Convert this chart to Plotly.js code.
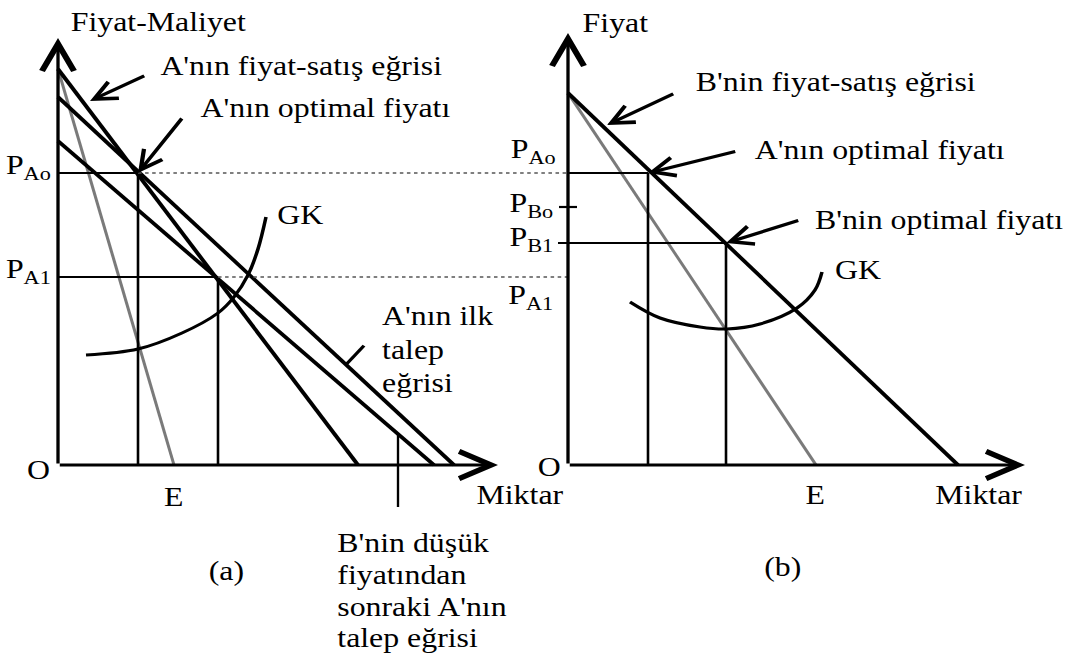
<!DOCTYPE html>
<html>
<head>
<meta charset="utf-8">
<script src="https://cdn.plot.ly/plotly-3.0.1.min.js"></script>
<style>
  html, body { margin: 0; padding: 0; background: #fff; overflow: hidden; }
  /* the figure is set in a Times face and widened to the page width */
  #chart { width: 903px; height: 656px; transform: scaleX(1.1794); transform-origin: 0 0; }
</style>
</head>
<body>
<div id="chart"></div>
<script>
// ---- Panel (a): firm A ----
const aSalesQ = [0, 75],        aSalesP = [99, 0];        // A'nın fiyat-satış eğrisi
const aFirstDemandQ = [0, 99],  aFirstDemandP = [92, 0];  // A'nın ilk talep eğrisi
const aNewDemandQ = [0, 94],    aNewDemandP = [81, 0];    // demand after B's lower price
const aMarginalQ = [0, 29],     aMarginalP = [99, 0];     // grey marginal line, ends at E
const aPrices = [73, 47];       // P_Ao, P_A1
const aQuantities = [20, 40];   // quantities sold at P_Ao, P_A1
const aCostQ = [7, 20, 31, 40, 44, 47.5, 50, 52];         // GK
const aCostP = [27.5, 29, 33, 38, 42, 47.5, 54, 62];
const aPriceLabels = ['P<sub>Ao</sub>', 'P<sub>A1</sub>'];

// ---- Panel (b): firm B ----
const bSalesQ = [0, 97.5],      bSalesP = [93, 0];        // B'nin fiyat-satış eğrisi
const bMarginalQ = [0, 62],     bMarginalP = [93, 0];
const bPrices = [64.5, 55.5];   // P_Bo, P_B1
const bQuantities = [20, 39.5]; // quantities at P_Ao and P_B1 on B's curve
const bCostQ = [15.5, 23, 33, 39.75, 48, 57.25, 61.75, 63.5]; // GK
const bCostP = [40.75, 36.75, 34.5, 34, 35.25, 39.25, 43.75, 48.25];
const bPriceLabels = ['P<sub>Ao</sub>', 'P<sub>Bo</sub>', 'P<sub>B1</sub>', 'P<sub>A1</sub>'];

const noteLines = ["B'nin düşük", 'fiyatından', "sonraki A'nın", 'talep eğrisi'];

// ---- layout geometry (final pixels per unit, origins of both panels) ----
const W = 1065, H = 656, PX = 4;
const PLOT_W = 903;                              // drawing width before widening
const originAx = 58, originBx = 568, originY = 465;
const bOriginInA = (originBx - originAx) / PX;   // B's price axis, in A's units

const FONT = { family: 'Liberation Serif, "Times New Roman", serif', size: 27, color: '#000' };
const BLACK = '#000', GREY = '#7a7a7a';

function valueOn(qs, ps, q) {
  return ps[0] + (ps[1] - ps[0]) * (q - qs[0]) / (qs[1] - qs[0]);
}
function line(xs, ys, xaxis, width, color, extra) {
  return Object.assign({
    type: 'scatter', mode: 'lines', x: xs, y: ys, xaxis: xaxis, yaxis: 'y',
    line: { color: color || BLACK, width: width }, hoverinfo: 'skip', showlegend: false
  }, extra || {});
}
const dotted = { line: { color: '#555', width: 1.6, dash: 'dot' } };
const smooth = { line: { color: BLACK, width: 3, shape: 'spline', smoothing: 1 } };

const traces = [
  // panel (a) curves
  line(aMarginalQ, aMarginalP, 'x', 2.6, GREY),
  line(aSalesQ, aSalesP, 'x', 3.5),
  line(aFirstDemandQ, aFirstDemandP, 'x', 3.5),
  line(aNewDemandQ, aNewDemandP, 'x', 3.5),
  // price levels and quantities in (a)
  line([0, aQuantities[0]], [aPrices[0], aPrices[0]], 'x', 2.2),
  line([aQuantities[0], aQuantities[0]], [aPrices[0], 0], 'x', 2.2),
  line([0, aQuantities[1]], [aPrices[1], aPrices[1]], 'x', 2.2),
  line([aQuantities[1], aQuantities[1]], [aPrices[1], 0], 'x', 2.2),
  // dotted guides running across to panel (b)
  line([aQuantities[0], bOriginInA], [aPrices[0], aPrices[0]], 'x', 1.6, '#555', dotted),
  line([aQuantities[1], bOriginInA], [aPrices[1], aPrices[1]], 'x', 1.6, '#555', dotted),
  // GK in (a)
  line(aCostQ, aCostP, 'x', 3, BLACK, smooth),
  // pointer ticks for the two labelled demand curves
  line([72, 76.5], [valueOn(aFirstDemandQ, aFirstDemandP, 72), valueOn(aFirstDemandQ, aFirstDemandP, 72) + 4.75], 'x', 3),
  line([85, 85], [valueOn(aNewDemandQ, aNewDemandP, 85), -10.5], 'x', 2),

  // panel (b) curves
  line(bMarginalQ, bMarginalP, 'x2', 2.6, GREY),
  line(bSalesQ, bSalesP, 'x2', 3.5),
  line([0, bQuantities[0]], [aPrices[0], aPrices[0]], 'x2', 2.2),
  line([bQuantities[0], bQuantities[0]], [aPrices[0], 0], 'x2', 2.2),
  line([-2.5, bQuantities[1]], [bPrices[1], bPrices[1]], 'x2', 2.2),
  line([bQuantities[1], bQuantities[1]], [bPrices[1], 0], 'x2', 2.2),
  line([-2.25, 2.25], [bPrices[0], bPrices[0]], 'x2', 2.2),
  line(bCostQ, bCostP, 'x2', 3, BLACK, smooth)
];

function arrow(xref, x, y, ax, ay, width, size) {
  return {
    xref: xref, yref: 'y', axref: xref, ayref: 'y',
    x: x, y: y, ax: ax, ay: ay, text: '', showarrow: true,
    arrowhead: 5, arrowwidth: width, arrowsize: size, arrowcolor: BLACK
  };
}
function label(xref, x, y, text, xanchor, extra) {
  return Object.assign({
    xref: xref, yref: 'y', x: x, y: y, text: text, showarrow: false,
    xanchor: xanchor || 'center', yanchor: 'middle', align: 'left', font: FONT
  }, extra || {});
}

const annotations = [
  // axes with arrowheads
  arrow('x', 0, 106.75, 0, 0, 2.8, 1.9),
  arrow('x', 110, 0, 0, 0, 2.8, 1.9),
  arrow('x2', 0, 108, 0, 0, 2.8, 1.9),
  arrow('x2', 114.25, 0, 0, 0, 2.8, 1.9),
  // pointers in (a)
  arrow('x', 8, 91, 22, 97.5, 3.2, 1.15),
  arrow('x', aQuantities[0], aPrices[0], 31.25, 87, 3.2, 1.15),
  // pointers in (b)
  arrow('x2', 9.75, 85, 26.75, 93, 3.2, 1.15),
  arrow('x2', bQuantities[0], aPrices[0], 42.25, 78.5, 3.2, 1.15),
  arrow('x2', bQuantities[1], bPrices[1], 58, 61.25, 3.2, 1.15),

  // texts in (a)
  label('x', 2.5, 110.75, 'Fiyat-Maliyet', 'left'),
  label('x', 25, 99.75, "A'nın fiyat-satış eğrisi", 'left'),
  label('x', 35, 89.25, "A'nın optimal fiyatı", 'left'),
  label('x', -1.25, aPrices[0], aPriceLabels[0], 'right', { yshift: 6 }),
  label('x', -1.25, aPrices[1], aPriceLabels[1], 'right', { yshift: 6 }),
  label('x', 60.5, 62.5, 'GK'),
  label('x', 80.5, 37.25, "A'nın ilk", 'left'),
  label('x', 80.5, 28.75, 'talep', 'left'),
  label('x', 80.5, 20.5, 'eğrisi', 'left'),
  label('x', -4.75, -1.25, 'O'),
  label('x', aMarginalQ[1], -8, 'E'),
  label('x', 115.5, -7.5, 'Miktar'),
  label('x', 69.25, -19.5, noteLines[0], 'left'),
  label('x', 69.25, -27.5, noteLines[1], 'left'),
  label('x', 69.25, -35.5, noteLines[2], 'left'),
  label('x', 69.25, -43.25, noteLines[3], 'left'),
  label('x', 42.25, -26.5, '(a)'),

  // texts in (b)
  label('x2', 3, 110.5, 'Fiyat', 'left'),
  label('x2', 31.25, 95.75, "B'nin fiyat-satış eğrisi", 'left'),
  label('x2', -2.5, aPrices[0], bPriceLabels[0], 'right', { yshift: 22 }),
  label('x2', 46, 78.75, "A'nın optimal fiyatı", 'left'),
  label('x2', -3.25, bPrices[0], bPriceLabels[1], 'right', { yshift: 2 }),
  label('x2', -3.25, bPrices[1], bPriceLabels[2], 'right', { yshift: 4 }),
  label('x2', 61.25, 61.25, "B'nin optimal fiyatı", 'left'),
  label('x2', 66.25, 48.75, 'GK', 'left'),
  label('x2', -3.25, aPrices[1], bPriceLabels[3], 'right', { yshift: -20 }),
  label('x2', -4.5, -0.5, 'O'),
  label('x2', bMarginalQ[1], -7.5, 'E'),
  label('x2', 102.75, -7.5, 'Miktar'),
  label('x2', 53.5, -25.5, '(b)')
];

const hidden = { visible: false, fixedrange: true };
const layout = {
  width: PLOT_W, height: H,
  margin: { l: 0, r: 0, t: 0, b: 0 },
  paper_bgcolor: '#fff', plot_bgcolor: '#fff',
  showlegend: false,
  xaxis: Object.assign({ range: [-originAx / PX, (W - originAx) / PX], domain: [0, 1] }, hidden),
  xaxis2: Object.assign({ range: [-originBx / PX, (W - originBx) / PX], domain: [0, 1], overlaying: 'x' }, hidden),
  yaxis: Object.assign({ range: [-(H - originY) / PX, originY / PX], domain: [0, 1] }, hidden),
  annotations: annotations,
  font: FONT
};

Plotly.newPlot('chart', traces, layout, { staticPlot: true, displayModeBar: false });
</script>
</body>
</html>
